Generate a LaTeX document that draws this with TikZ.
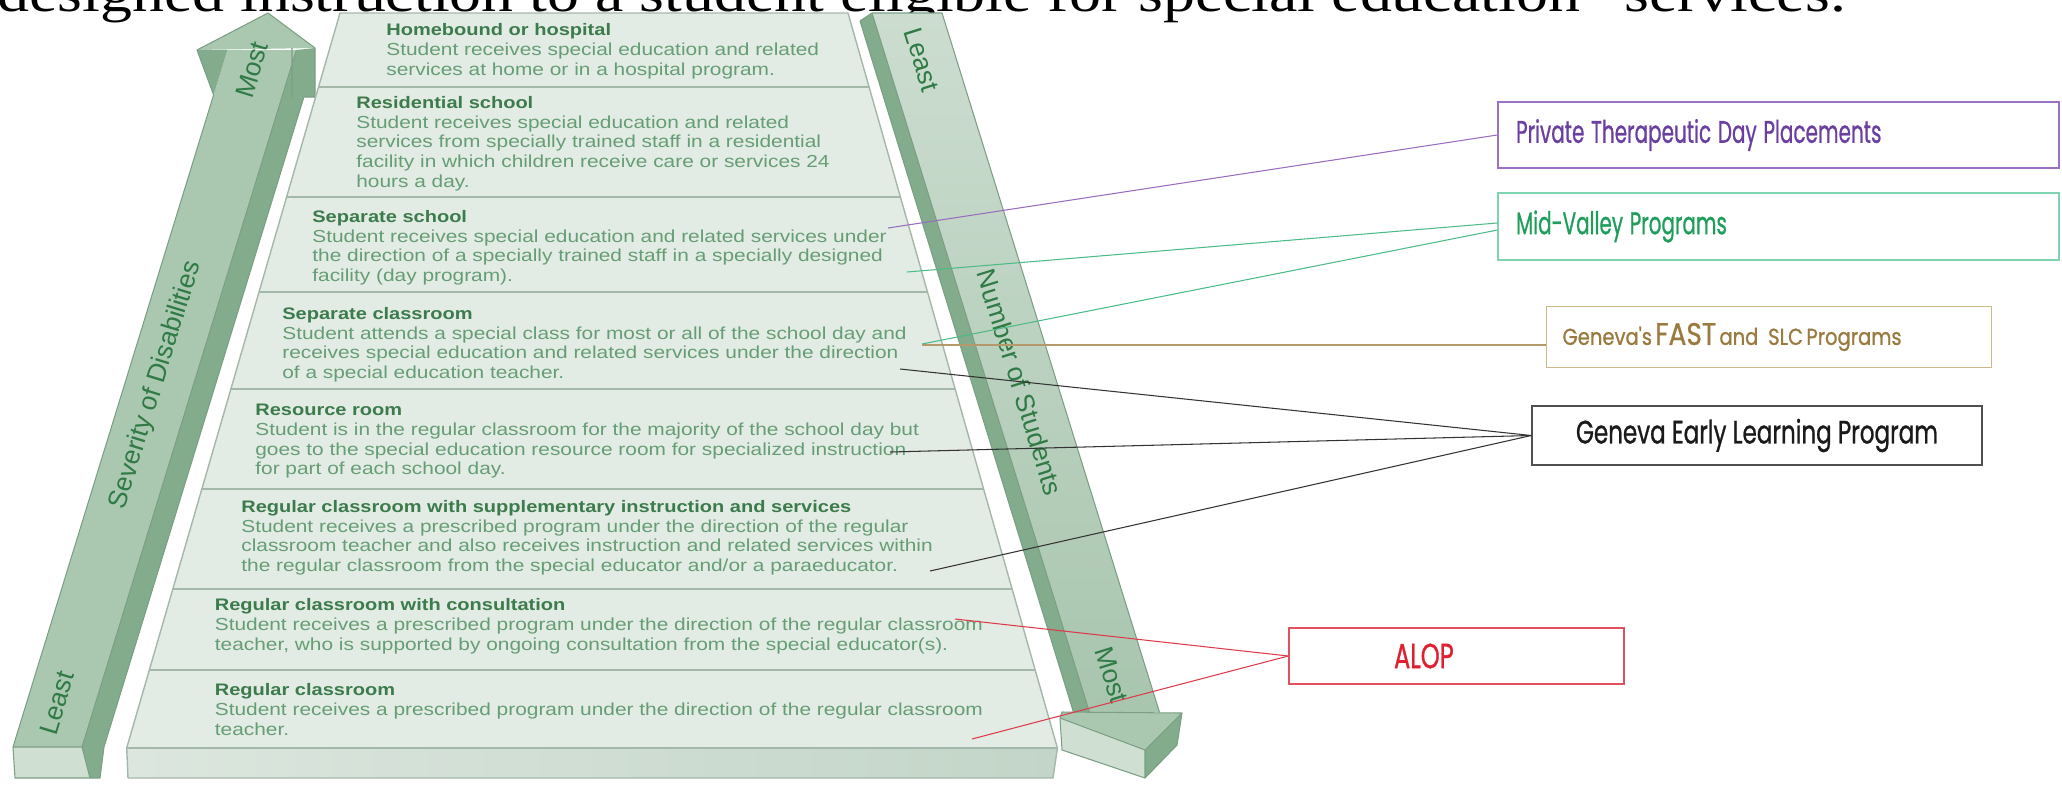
\documentclass[tikz,border=0pt]{standalone}
\usepackage{fontspec}
\setmainfont{Liberation Sans}
\newfontfamily\pyrfont[FakeStretch=1.2]{Liberation Sans}
\newfontfamily\titlefont[FakeStretch=1.2]{Liberation Serif}
\newfontfamily\boxfont[FakeBold=1]{Poppins}
\usetikzlibrary{calc}
\definecolor{pyrfill}{HTML}{E3EBE5}
\definecolor{pyrline}{HTML}{A3B8A8}
\definecolor{hdr}{HTML}{3C7B4C}
\definecolor{bodyc}{HTML}{659E74}
\definecolor{barfront}{HTML}{AAC8B0}
\definecolor{barside}{HTML}{82AC8C}
\definecolor{barlight}{HTML}{CFE0D3}
\definecolor{baredge}{HTML}{7C9F84}
\definecolor{barlabel}{HTML}{2F7A45}
\definecolor{rbartop}{HTML}{CCDDD0}
\definecolor{rbarbot}{HTML}{A8C5AE}
\definecolor{basel}{HTML}{DCE6DE}
\definecolor{baser}{HTML}{C3D5C8}
\definecolor{ptdpc}{HTML}{9A72C4}
\definecolor{ptdpt}{HTML}{6B3FA0}
\definecolor{mvpc}{HTML}{7FD3AE}
\definecolor{mvpt}{HTML}{1E9E5A}
\definecolor{fastc}{HTML}{CDB888}
\definecolor{fastt}{HTML}{9A7A3E}
\definecolor{gelpc}{HTML}{505050}
\definecolor{gelpt}{HTML}{1A1A1A}
\definecolor{alopc}{HTML}{E0505F}
\definecolor{alopt}{HTML}{E02030}
\definecolor{lpurple}{HTML}{9A6CC0}
\definecolor{lgreen}{HTML}{4DBB85}
\definecolor{ltan}{HTML}{B49A6A}
\definecolor{lblack}{HTML}{333333}
\definecolor{lred}{HTML}{E03A4A}
\newcommand{\hd}[1]{{\fontsize{9.5}{11.3}\selectfont\bfseries\color{hdr}#1}}
\tikzset{
  sepline/.style={pyrline, line width=1.3pt},
  lay/.style={anchor=north west, inner sep=0, align=left, text=bodyc,
    font=\pyrfont\fontsize{9.9}{11.3}\selectfont},
  barlbl/.style={inner sep=0, text=barlabel, font=\fontsize{15}{15}\selectfont},
  progbox/.style={draw, line width=0.9pt, inner ysep=0, font=\boxfont},
  conn/.style={line width=0.6pt},
}
\begin{document}
\begin{tikzpicture}[x=0.02cm, y=-0.02cm]
\useasboundingbox (0,0) rectangle (2062,785);
\begin{scope}
\clip (0,0) rectangle (2062,785);
\node[anchor=base west, inner sep=0, font=\titlefont\fontsize{30.3}{30}\selectfont] (title) at (-3,11)
  {designed instruction to a student eligible for special education” services.};
\end{scope}

% ---------- left bar ----------
\fill[barside] (82,747) -- (296.4,50) -- (315,48) -- (315,97) -- (303.9,97) -- (104,747) -- (100,778) -- (90,778) -- cycle;
\fill[barfront] (13,747) -- (82,747) -- (296.4,50) -- (227.4,50) -- cycle;
\fill[barside] (197,50) -- (227.4,50) -- (213.6,95) -- cycle;
\fill[barfront] (197,50) -- (268,13) -- (315,48) -- cycle;
\fill[barlight] (13,747) -- (82,747) -- (90,778) -- (15,778) -- cycle;
\draw[baredge, line width=0.6pt, line join=round]
  (13,747) -- (213.6,95) -- (197,50) -- (268,13) -- (315,48) -- (315,97) -- (303.9,97) -- (104,747) -- (100,778) -- (15,778) -- cycle;
\draw[baredge, line width=0.6pt] (82,747) -- (296.4,50) (13,747) -- (82,747) -- (90,778) (292,48) -- (292,97);

% ---------- right bar ----------
\fill[barside] (872,13) -- (1089.4,712) -- (1073.4,712) -- (860,21) -- cycle;
\shade[top color=rbartop, bottom color=rbarbot] (872,13) -- (942,13) -- (1159.4,712) -- (1089.4,712) -- cycle;
\fill[barfront] (1062,712) -- (1182,713) -- (1145,750) -- (1060,718) -- cycle;
\fill[barlight] (1060,718) -- (1145,750) -- (1145,778) -- (1062,750) -- cycle;
\fill[barside] (1145,750) -- (1182,713) -- (1177,745) -- (1145,778) -- cycle;
\draw[baredge, line width=0.6pt, line join=round]
  (860,21) -- (872,13) -- (942,13) -- (1159.4,712) (872,13) -- (1089.4,712) (860,21) -- (1073.4,712)
  (1062,712) -- (1182,713) -- (1177,745) -- (1145,778) -- (1062,750) -- (1060,718) -- cycle
  (1060,718) -- (1145,750) -- (1182,713) (1145,750) -- (1145,778);

% ---------- pyramid ----------
\fill[pyrfill] (340,13) -- (848,13) -- (1057.4,748) -- (126.7,748) -- cycle;
\shade[left color=basel, right color=baser] (126.7,748) -- (1057.4,748) -- (1053,778) -- (128,778) -- cycle;
\draw[pyrline, line width=0.8pt, line join=round] (340,13) -- (848,13) -- (1057.4,748) -- (1053,778) -- (128,778) -- (126.7,748) -- cycle;
\draw[sepline] (318.5,87) -- (869.1,87);
\draw[sepline] (286.6,197) -- (900.4,197);
\draw[sepline] (259.0,292) -- (927.5,292);
\draw[sepline] (230.9,389) -- (955.1,389);
\draw[sepline] (201.9,489) -- (983.6,489);
\draw[sepline] (172.9,589) -- (1012.1,589);
\draw[sepline] (149.3,670) -- (1035.2,670);
\draw[sepline] (126.7,748) -- (1057.4,748);

\node[lay] (l1) at (386,23.5) {\hd{Homebound or hospital}\\Student receives special education and related\\services at home or in a hospital program.};
\node[lay] (l2) at (356,95.8) {\hd{Residential school}\\Student receives special education and related\\services from specially trained staff in a residential\\facility in which children receive care or services 24\\hours a day.};
\node[lay] (l3) at (312,209.8) {\hd{Separate school}\\Student receives special education and related services under\\the direction of a specially trained staff in a specially designed\\facility (day program).};
\node[lay] (l4) at (282,306.8) {\hd{Separate classroom}\\Student attends a special class for most or all of the school day and\\receives special education and related services under the direction\\of a special education teacher.};
\node[lay] (l5) at (255,403.5) {\hd{Resource room}\\Student is in the regular classroom for the majority of the school day but\\goes to the special education resource room for specialized instruction\\for part of each school day.};
\node[lay] (l6) at (241,499.8) {\hd{Regular classroom with supplementary instruction and services}\\Student receives a prescribed program under the direction of the regular\\classroom teacher and also receives instruction and related services within\\the regular classroom from the special educator and/or a paraeducator.};
\node[lay] (l7) at (214.5,598.5) {\hd{Regular classroom with consultation}\\Student receives a prescribed program under the direction of the regular classroom\\teacher, who is supported by ongoing consultation from the special educator(s).};
\node[lay] (l8) at (214.5,683.5) {\hd{Regular classroom}\\Student receives a prescribed program under the direction of the regular classroom\\teacher.};

% ---------- bar labels ----------
\node[barlbl, rotate=72.9] (sev) at (156,385) {Severity of Disabilities};
\node[barlbl, rotate=72.9] (lmost) at (252,70) {Most};
\node[barlbl, rotate=72.9] (lleast) at (57,703) {Least};
\node[barlbl, rotate=-72.7] (rleast) at (922,60) {Least};
\node[barlbl, rotate=-72.7] (num) at (1020,382) {Number of Students};
\node[barlbl, rotate=-72.7] (rmost) at (1112,675) {Most};

% ---------- program boxes ----------
\node[progbox, draw=ptdpc, text=ptdpt, minimum width=11.22cm, minimum height=1.32cm, text width=10.5cm, inner xsep=0.36cm, align=left] (ptdp) at (1778.5,135)
  {\resizebox{208pt}{13.5pt}{Private Therapeutic Day Placements}};
\node[progbox, draw=mvpc, text=mvpt, minimum width=11.22cm, minimum height=1.34cm, text width=10.5cm, inner xsep=0.36cm, align=left] (mvp) at (1778.5,226.5)
  {\resizebox{120pt}{13.5pt}{Mid-Valley Programs}};
\node[progbox, draw=fastc, text=fastt, minimum width=8.9cm, minimum height=1.22cm, text width=8.26cm, inner xsep=0.32cm, align=left] (fast) at (1769,337)
  {\raisebox{-5pt}{\resizebox{193pt}{12.5pt}{\fontsize{10}{10}\selectfont Geneva's\,{\fontsize{13.5}{13.5}\selectfont FAST}\,and\, SLC\,Programs}}};
\node[progbox, draw=gelpc, text=gelpt, minimum width=9.0cm, minimum height=1.18cm, align=center] (gelp) at (1757,435.5)
  {\resizebox{206pt}{14pt}{Geneva Early Learning Program}};
\node[progbox, draw=alopc, text=alopt, minimum width=6.7cm, minimum height=1.12cm, text width=2.5cm, inner xsep=2.1cm, align=left] (alop) at (1456.5,656)
  {\resizebox{34pt}{14pt}{ALOP}};

% ---------- connectors ----------
\coordinate (p1) at (888,228);
\coordinate (g1) at (907,272);
\coordinate (g2) at (922,344);
\coordinate (t1) at (922,345);
\coordinate (b1) at (900,369);
\coordinate (b2) at (890,452);
\coordinate (b3) at (930,571);
\coordinate (r1) at (955,619);
\coordinate (r2) at (972,739);
\draw[conn, lpurple] (p1) -- (ptdp.west);
\draw[conn, lgreen] (g1) -- ([yshift=2pt]mvp.west);
\draw[conn, lgreen] (g2) -- ([yshift=-2pt]mvp.west);
\draw[conn, ltan] (t1) -- (t1 -| fast.west);
\draw[conn, lblack] (b1) -- (gelp.west);
\draw[conn, lblack] (b2) -- (gelp.west);
\draw[conn, lblack] (b3) -- (gelp.west);
\draw[conn, lred] (r1) -- (alop.west);
\draw[conn, lred] (r2) -- (alop.west);
\end{tikzpicture}
\end{document}
